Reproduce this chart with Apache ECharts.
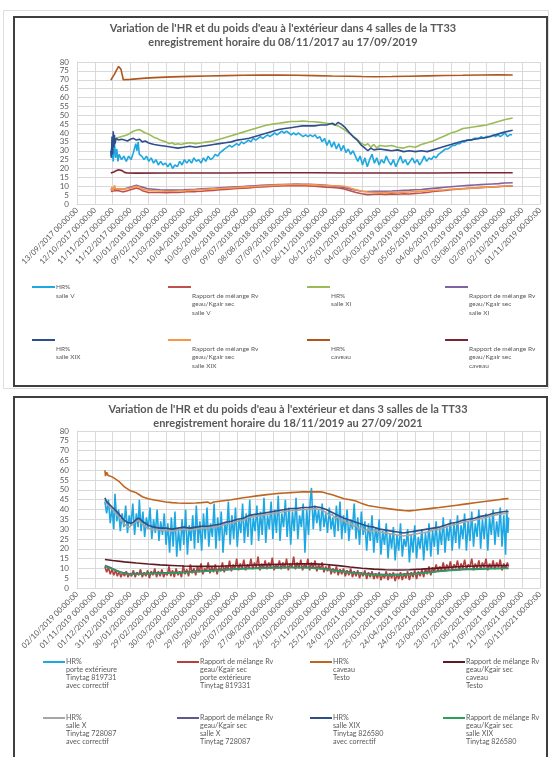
<!DOCTYPE html>
<html><head><meta charset="utf-8">
<script src="https://cdn.jsdelivr.net/npm/echarts@6.0.0/dist/echarts.min.js"></script>
<style>html,body{margin:0;padding:0;background:#fff}#c{width:550px;height:757px}</style>
</head><body><div id="c"></div><script>
// ---------- tick labels (one label every 30 days from the axis origin) ----------
const ticks1 = ['13/09/2017 00:00:00','12/10/2017 00:00:00','11/11/2017 00:00:00','11/12/2017 00:00:00','10/01/2018 00:00:00','09/02/2018 00:00:00','11/03/2018 00:00:00','10/04/2018 00:00:00','10/05/2018 00:00:00','09/06/2018 00:00:00','09/07/2018 00:00:00','08/08/2018 00:00:00','07/09/2018 00:00:00','07/10/2018 00:00:00','06/11/2018 00:00:00','06/12/2018 00:00:00','05/01/2019 00:00:00','04/02/2019 00:00:00','06/03/2019 00:00:00','05/04/2019 00:00:00','05/05/2019 00:00:00','04/06/2019 00:00:00','04/07/2019 00:00:00','03/08/2019 00:00:00','02/09/2019 00:00:00','02/10/2019 00:00:00','01/11/2019 00:00:00'];
const ticks2 = ['02/10/2019 00:00:00','01/11/2019 00:00:00','01/12/2019 00:00:00','31/12/2019 00:00:00','30/01/2020 00:00:00','29/02/2020 00:00:00','30/03/2020 00:00:00','29/04/2020 00:00:00','29/05/2020 00:00:00','28/06/2020 00:00:00','28/07/2020 00:00:00','27/08/2020 00:00:00','26/09/2020 00:00:00','26/10/2020 00:00:00','25/11/2020 00:00:00','25/12/2020 00:00:00','24/01/2021 00:00:00','23/02/2021 00:00:00','25/03/2021 00:00:00','24/04/2021 00:00:00','24/05/2021 00:00:00','23/06/2021 00:00:00','23/07/2021 00:00:00','22/08/2021 00:00:00','21/09/2021 00:00:00','21/10/2021 00:00:00','20/11/2021 00:00:00'];
const yTicks = [0,5,10,15,20,25,30,35,40,45,50,55,60,65,70,75,80];

// ---------- chart 1 : [day since 13/09/2017, value] ----------
const c1_hrSalleV = [[57,27],[59,33],[61,24],[63,35],[65,26],[67,31],[69,24],[71,28],[75,25],[79,27],[83,24],[87,27],[91,25],[95,29],[99,34],[101,30],[103,35],[105,28],[109,27],[113,25],[117,27],[121,24],[125,26],[129,23],[133,25],[137,22],[141,24],[145,22],[149,23],[153,21],[157,23],[161,20],[165,22],[169,21],[173,24],[177,22],[181,25],[185,23],[189,25],[193,23],[197,26],[201,24],[205,25],[209,23],[213,26],[217,24],[221,27],[225,25],[229,26],[233,28],[237,27],[241,29],[245,30],[249,31],[253,32],[257,33],[261,32],[265,33],[269,34],[273,33],[277,35],[281,34],[285,35],[289,36],[293,35],[297,37],[301,36],[305,37],[309,38],[313,37],[317,38],[321,39],[325,38],[329,39],[333,40],[337,39],[341,40],[345,41],[349,40],[353,41],[357,40],[361,39],[365,40],[369,39],[373,40],[377,39],[381,38],[385,39],[389,38],[393,39],[397,38],[401,39],[405,37],[409,38],[413,35],[417,37],[421,33],[425,36],[429,32],[433,35],[437,31],[441,34],[445,30],[449,33],[453,29],[457,31],[461,28],[465,30],[469,27],[473,24],[477,27],[481,22],[485,26],[489,21],[493,25],[497,28],[501,23],[505,26],[509,22],[513,25],[517,23],[521,27],[525,24],[529,22],[533,25],[537,21],[541,24],[545,27],[549,23],[553,25],[557,22],[561,24],[565,26],[569,23],[573,25],[577,22],[581,24],[585,27],[589,24],[593,26],[597,25],[601,27],[605,26],[609,28],[613,29],[617,30],[621,31],[625,31],[629,32],[633,33],[637,33],[641,34],[645,34],[649,35],[653,35],[657,36],[661,36],[665,36],[669,37],[673,37],[677,37],[681,38],[685,37],[689,38],[693,38],[697,38],[701,39],[705,38],[709,39],[713,38],[717,39],[721,40],[725,38],[729,39],[733,39]];
const c1_rvSalleV = [[57,7],[60,6],[63,7.5],[66,6.5],[70,7.5],[75,7],[80,7],[85,7.5],[90,8],[95,8.5],[100,9],[105,8.5],[110,7.5],[115,7],[120,6.5],[130,6.5],[140,6.5],[150,6.3],[160,6.5],[170,6.5],[180,6.8],[190,7],[200,7],[210,7.2],[220,7.5],[230,7.7],[240,8],[250,8.2],[260,8.5],[270,8.7],[280,8.9],[290,9.1],[300,9.4],[310,9.6],[320,9.8],[330,10],[340,10.1],[350,10.3],[360,10.3],[370,10.3],[380,10.4],[390,10.2],[400,10],[410,9.8],[420,9.5],[430,9.3],[440,9],[450,8.5],[460,7.5],[470,6.5],[480,5.8],[490,5.3],[500,5.5],[510,5.6],[520,5.4],[530,5.7],[540,5.5],[550,5.8],[560,5.6],[570,6],[580,6.2],[590,6.5],[600,7],[610,7.3],[620,7.6],[630,8],[640,8.3],[650,8.6],[660,8.8],[670,9],[680,9.2],[690,9.4],[700,9.6],[710,9.8],[720,10],[734,10.2]];
const c1_hrSalleXI = [[58,35],[62,36],[66,37],[70,37.5],[75,38],[80,38.5],[85,39],[90,40],[95,41],[100,41.5],[105,42],[110,41],[115,40],[120,39.5],[125,38.5],[130,37.5],[135,37],[140,36],[145,35.5],[150,35],[155,34],[160,34.5],[165,33.5],[170,34],[175,33.5],[180,34],[190,34.5],[200,34],[210,34.5],[220,35],[230,35.5],[240,36.5],[250,37.5],[260,38.5],[270,39.5],[280,40.5],[290,41.5],[300,42.5],[310,43.5],[320,44.5],[330,45],[340,45.5],[350,46],[360,46.5],[370,46.5],[380,46.8],[390,46.5],[400,46.3],[410,46],[420,45.5],[430,45],[440,44],[450,42],[460,39.5],[470,37],[478,34.5],[485,33],[490,34],[495,32],[500,33.5],[505,31.5],[510,33],[520,32.5],[530,33],[540,32],[550,31.5],[560,32.5],[570,32],[580,33.5],[590,34.5],[600,35.5],[610,37],[620,38.5],[630,40],[640,41],[650,42.5],[660,43],[670,43.5],[680,44],[690,44.5],[700,45.5],[710,46.5],[720,47.5],[734,48.5]];
const c1_rvSalleXI = [[57,8],[60,8.5],[65,8],[70,8.5],[80,8.5],[90,9.5],[95,10],[100,10.5],[105,10],[110,9.5],[115,9],[120,8.5],[130,8.3],[140,8],[150,7.8],[160,7.8],[170,7.9],[180,8],[190,8.2],[200,8.3],[210,8.5],[220,8.7],[230,8.9],[240,9.1],[250,9.3],[260,9.5],[270,9.7],[280,9.9],[290,10.1],[300,10.3],[310,10.5],[320,10.7],[330,10.8],[340,10.9],[350,11],[360,11.1],[370,11.2],[380,11.1],[390,11.1],[400,11],[410,10.8],[420,10.5],[430,10.2],[440,9.8],[450,9.3],[460,8.5],[470,7.8],[480,7.2],[490,7],[500,7.1],[510,7.2],[520,7.2],[530,7.3],[540,7.5],[550,7.7],[560,7.8],[570,8],[580,8.2],[590,8.5],[600,8.8],[610,9.1],[620,9.4],[630,9.7],[640,10],[650,10.3],[660,10.5],[670,10.7],[680,10.9],[690,11.1],[700,11.3],[710,11.5],[720,11.8],[734,12]];
const c1_hrSalleXIX = [[57,30],[58,26],[59,38],[60,28],[61,41],[62,32],[63,39],[64,34],[66,37],[70,36],[75,36.5],[80,36],[85,35.5],[90,36.5],[95,37],[100,36],[105,36.5],[110,35],[115,35.5],[120,34.5],[125,34],[130,33.5],[140,33],[150,32.5],[160,32],[170,31.5],[180,32],[190,32.5],[200,32],[210,32.5],[220,33],[230,33.5],[240,34],[250,34.5],[260,35],[270,36],[280,36.5],[290,37],[300,38],[310,39],[320,40],[330,41],[340,42],[350,42.5],[360,43],[370,43.5],[380,44],[390,44],[400,44],[410,44.5],[420,44.5],[430,45.5],[435,44.5],[440,46],[445,45],[448,46],[452,43],[458,40.5],[465,38],[472,36],[478,33.5],[485,31.5],[490,30],[495,31.5],[500,30.5],[510,31],[520,30.5],[530,30],[540,30.5],[550,29.5],[560,30],[570,29.5],[580,30],[590,29.5],[600,30.5],[610,31.5],[620,32.5],[630,33.5],[640,34.5],[650,35.5],[660,36],[670,36.5],[680,37],[690,37.5],[700,38.5],[710,39.5],[720,40.5],[734,41.5]];
const c1_rvSalleXIX = [[57,8],[59,9.5],[61,7.5],[63,10.5],[65,8.5],[68,9],[72,8.5],[80,8.5],[90,9],[95,9.5],[100,10],[105,9.5],[110,8.5],[115,8],[120,7.8],[130,7.5],[140,7.3],[150,7.2],[160,7.2],[170,7.3],[180,7.5],[190,7.7],[200,7.9],[210,8.1],[220,8.3],[230,8.5],[240,8.7],[250,8.9],[260,9.1],[270,9.3],[280,9.5],[290,9.7],[300,9.9],[310,10.1],[320,10.3],[330,10.5],[340,10.7],[350,10.9],[360,11],[370,11],[380,11],[390,10.9],[400,10.8],[410,10.6],[420,10.4],[430,10.3],[440,10.2],[450,10],[460,9],[470,8],[480,7.2],[490,6.8],[500,6.6],[510,6.5],[520,6.4],[530,6.5],[540,6.6],[550,6.7],[560,6.8],[570,7],[580,7.2],[590,7.4],[600,7.6],[610,7.8],[620,8],[630,8.3],[640,8.5],[650,8.7],[660,8.9],[670,9.1],[680,9.3],[690,9.5],[700,9.7],[710,9.9],[720,10.1],[734,10.3]];
const c1_hrCaveau = [[57,69.8],[60,71.5],[63,73],[66,75],[68,74],[70,77.5],[72,78],[74,76],[76,73],[78,70],[80,69.5],[90,70.2],[110,70.8],[130,71.2],[160,71.6],[190,71.9],[220,72.1],[250,72.3],[280,72.5],[310,72.6],[340,72.6],[370,72.5],[400,72.3],[430,72.1],[460,72],[480,71.8],[500,71.7],[530,71.8],[560,72],[590,72.2],[620,72.4],[650,72.5],[680,72.7],[710,72.8],[734,72.7]];
const c1_rvCaveau = [[57,17.5],[62,18],[66,18.8],[70,19.3],[73,19.5],[76,18.8],[80,17.8],[85,17.5],[100,17.4],[150,17.5],[200,17.5],[250,17.5],[300,17.6],[350,17.6],[400,17.6],[450,17.5],[500,17.5],[550,17.5],[600,17.5],[650,17.6],[700,17.6],[734,17.6]];

// ---------- chart 2 : [day since 02/10/2019, value] ----------
const c2_hrPorteExt = [[47,44],[50,38],[53,45],[56,33],[59,41],[62,30],[64,48],[67,34],[70,40],[73,29],[76,38],[79,31],[82,42],[85,28],[88,37],[91,32],[94,43],[97,27],[100,38],[103,31],[105,45],[108,29],[111,39],[114,26],[117,36],[120,30],[123,41],[126,25],[129,35],[132,28],[135,40],[138,24],[141,34],[144,27],[147,38],[150,22],[153,33],[156,18],[159,36],[162,21],[165,39],[168,16],[171,30],[174,19],[177,35],[180,22],[183,40],[186,17],[189,32],[192,24],[195,37],[198,20],[201,42],[204,23],[207,34],[210,19],[213,38],[216,25],[219,41],[222,21],[225,33],[228,26],[231,43],[234,20],[237,36],[240,24],[243,39],[246,18],[249,33],[252,27],[255,44],[258,22],[261,37],[264,25],[267,41],[270,21],[273,35],[276,28],[279,43],[282,23],[285,38],[288,26],[291,45],[294,22],[297,36],[300,29],[303,42],[306,24],[309,39],[312,27],[315,46],[318,23],[321,37],[324,30],[327,44],[330,25],[333,40],[336,28],[339,47],[342,24],[345,38],[348,31],[351,45],[354,26],[357,41],[360,22],[363,39],[366,29],[369,46],[372,25],[375,37],[378,31],[381,43],[384,18],[387,40],[390,27],[393,45],[395,51],[398,30],[401,42],[404,33],[407,40],[410,29],[413,43],[416,31],[419,38],[422,28],[425,41],[428,30],[431,36],[434,26],[437,42],[440,29],[443,44],[446,25],[449,37],[452,28],[455,40],[458,24],[461,35],[464,30],[467,43],[470,25],[473,36],[476,22],[479,39],[482,27],[485,34],[488,19],[491,33],[494,24],[497,37],[500,18],[503,31],[506,23],[509,35],[512,17],[515,29],[518,22],[521,33],[524,15],[527,28],[530,20],[533,31],[536,14],[539,27],[542,19],[545,33],[548,16],[551,25],[554,21],[557,30],[560,13],[563,27],[566,18],[569,32],[572,15],[575,26],[578,20],[581,30],[584,14],[587,28],[590,19],[593,33],[596,16],[599,29],[602,21],[605,34],[608,17],[611,30],[614,22],[617,36],[620,18],[623,31],[626,24],[629,35],[632,19],[635,33],[638,23],[641,37],[644,20],[647,32],[650,25],[653,38],[656,19],[659,34],[662,24],[665,39],[668,21],[671,33],[674,26],[677,40],[680,20],[683,35],[686,25],[689,38],[692,19],[695,36],[698,27],[701,40],[704,22],[707,34],[710,26],[713,41],[716,21],[719,37],[722,17],[724,40],[726,28],[727,36]];
const c2_rvPorteExt = [[47,11],[50,8],[53,10.5],[56,7],[59,9.5],[62,6.5],[65,9],[68,6],[71,8.5],[74,5.5],[77,8],[80,6],[83,8.5],[86,5.5],[89,7.5],[92,6],[95,9],[98,5.5],[101,8],[104,6.5],[107,9.5],[110,5.5],[113,8],[116,6],[119,9],[122,5],[125,8.5],[128,6.5],[131,10],[134,5.5],[137,8.5],[140,6],[143,9.5],[146,5.5],[149,8],[152,6.5],[155,11],[158,6],[161,9],[164,5.5],[167,10],[170,6.5],[173,8.5],[176,5.5],[179,11.5],[182,7],[185,9.5],[188,6],[191,12],[194,7.5],[197,10],[200,6.5],[203,11],[206,8],[209,12.5],[212,7],[215,10],[218,8.5],[221,13],[224,7.5],[227,11],[230,8],[233,12],[236,7],[239,10.5],[242,8.5],[245,13],[248,8],[251,11.5],[254,9],[257,14],[260,8.5],[263,12],[266,9.5],[269,15],[272,9],[275,12.5],[278,10],[281,14.5],[284,9],[287,12],[290,10],[293,15],[296,9.5],[299,13],[302,10.5],[305,16],[308,9],[311,12.5],[314,10],[317,14],[320,9.5],[323,13],[326,10.5],[329,15.5],[332,9],[335,12],[338,10],[341,14],[344,9.5],[347,13],[350,10],[353,15],[356,9],[359,12.5],[362,10.5],[365,16],[368,9.5],[371,13],[374,10],[377,14.5],[380,9],[383,12],[386,10.5],[389,15],[392,9],[395,13],[398,10],[401,14],[404,8.5],[407,12],[410,9.5],[413,13],[416,8],[419,11],[422,8.5],[425,12],[428,7],[431,10],[434,7.5],[437,11],[440,6.5],[443,9.5],[446,7],[449,10],[452,6],[455,9],[458,6.5],[461,10],[464,5.5],[467,8.5],[470,6],[473,9],[476,5],[479,8],[482,6],[485,9],[488,4.5],[491,8],[494,5.5],[497,8.5],[500,4.5],[503,7.5],[506,5],[509,8],[512,4],[515,7],[518,5],[521,8.5],[524,4],[527,7.5],[530,5],[533,8],[536,3.5],[539,7],[542,4.5],[545,8],[548,4],[551,7.5],[554,5],[557,8.5],[560,4],[563,8],[566,5.5],[569,9],[572,4.5],[575,8.5],[578,6],[581,9.5],[584,5.5],[587,10],[590,7],[593,11],[596,6.5],[599,10.5],[602,8],[605,12],[608,8.5],[611,11],[614,9],[617,13],[620,8.5],[623,12],[626,9.5],[629,13.5],[632,9],[635,12],[638,10],[641,14],[644,9],[647,12.5],[650,10],[653,14.5],[656,9.5],[659,12],[662,10.5],[665,15],[668,9],[671,12.5],[674,10],[677,14],[680,9.5],[683,13],[686,10.5],[689,15],[692,9],[695,12.5],[698,10],[701,14],[704,9.5],[707,13],[710,10.5],[713,14.5],[716,9],[719,12.5],[722,10],[725,13],[727,11]];
const c2_hrCaveau = [[47,60],[48,57],[50,59],[52,57.5],[55,57.5],[60,56.5],[65,55.5],[70,54.5],[75,53],[80,51.5],[85,50.5],[90,49.5],[95,49],[100,48.5],[105,47.5],[110,46.5],[115,46],[120,45.5],[130,44.8],[140,44.3],[150,43.8],[160,43.5],[170,43.3],[180,43.2],[190,43.2],[200,43.3],[210,43.5],[220,43.8],[225,43],[230,43.8],[240,44.2],[250,44.6],[260,45],[270,45.5],[280,46],[290,46.4],[300,46.8],[310,47.2],[320,47.6],[330,47.9],[340,48.2],[350,48.4],[360,48.6],[370,48.8],[380,49],[390,49],[400,49],[410,49],[415,48.8],[420,48.3],[430,47.5],[440,46.5],[450,45.5],[460,45],[470,44.3],[480,43],[490,42],[500,41.5],[510,41],[520,40.6],[530,40.2],[540,39.8],[550,39.5],[560,39.3],[570,39.6],[580,40],[590,40.3],[600,40.7],[610,41],[620,41.4],[630,41.8],[640,42.2],[650,42.6],[660,43],[670,43.4],[680,43.8],[690,44.2],[700,44.6],[710,45],[720,45.4],[727,45.6]];
const c2_rvCaveau = [[47,14.5],[60,14],[80,13.3],[100,12.7],[120,12.2],[140,11.8],[160,11.5],[180,11.2],[200,11],[220,11],[240,11.1],[260,11.3],[280,11.5],[300,11.7],[320,11.9],[340,12.1],[360,12.2],[380,12.3],[400,12.3],[420,12],[440,11.4],[460,10.7],[480,10.1],[500,9.6],[520,9.3],[540,9.2],[560,9.3],[580,9.6],[600,10],[620,10.4],[640,10.8],[660,11.1],[680,11.3],[700,11.4],[727,11.5]];
const c2_hrSalleX = [[47,45],[50,43],[53,44],[56,41],[60,40],[64,38.5],[68,37],[72,35.5],[76,34],[80,32.5],[84,31.5],[88,31],[92,32],[96,33],[100,34],[104,34.5],[108,33],[112,32],[116,31],[120,30.5],[125,30],[130,29.5],[135,30],[140,29.5],[150,29.5],[160,29],[170,29.5],[180,30],[190,29.5],[200,30],[210,30.5],[220,30.5],[230,31],[240,31.5],[250,32.5],[260,33],[270,34],[280,34.5],[290,36],[300,36.5],[310,37],[320,37.5],[330,38],[340,38.5],[350,39],[360,39.5],[370,39.5],[380,40],[390,40],[400,40.5],[410,40],[420,38.5],[425,37],[430,37.5],[435,35.5],[440,36],[445,34],[450,34.5],[455,33],[460,33.5],[465,31.5],[470,32],[475,30],[480,31],[485,29],[490,30],[495,28.5],[500,29.5],[510,28.5],[520,28],[530,27.5],[540,27],[550,26.5],[560,27],[570,27.5],[580,28],[590,28.5],[600,29.5],[610,30],[620,31],[630,32],[640,32.5],[650,33.5],[660,34],[670,34.5],[680,35.5],[690,36],[700,37],[710,37.5],[720,38],[727,38]];
const c2_rvSalleX = [[47,11.5],[52,11],[57,10.3],[62,9.6],[67,8.9],[72,8.3],[77,7.9],[82,7.6],[87,7.4],[92,7.3],[100,7.3],[110,7.4],[120,7.5],[130,7.6],[140,7.7],[150,7.8],[160,7.9],[170,8],[180,8.1],[190,8.3],[200,8.5],[210,8.7],[220,8.9],[230,9.1],[240,9.3],[250,9.5],[260,9.7],[270,9.9],[280,10],[290,10.1],[300,10.2],[310,10.3],[320,10.4],[330,10.5],[340,10.5],[350,10.6],[360,10.6],[370,10.6],[380,10.6],[390,10.5],[400,10.3],[410,10.1],[420,9.7],[430,9.3],[440,8.9],[450,8.5],[460,8.1],[470,7.8],[480,7.5],[490,7.3],[500,7.1],[510,7],[520,6.9],[530,6.9],[540,7],[550,7.1],[560,7.3],[570,7.5],[580,7.8],[590,8.1],[600,8.4],[610,8.7],[620,9],[630,9.2],[640,9.4],[650,9.6],[660,9.7],[670,9.8],[680,9.9],[690,10],[700,10.1],[710,10.1],[720,10.2],[727,10.2]];
const c2_hrSalleXIX = [[47,46],[50,44],[55,42.5],[60,41],[65,39.5],[70,38],[75,36],[80,34.5],[85,33.5],[90,33],[95,33.5],[100,35],[105,35.5],[110,34],[115,33],[120,32],[125,31.5],[130,31],[140,30.5],[150,30.5],[160,30],[170,30.5],[180,31],[190,30.5],[200,31],[210,31.5],[220,31.5],[230,32],[240,32.5],[250,33.5],[260,34],[270,35],[280,35.5],[290,37],[300,37.5],[310,38],[320,38.5],[330,39],[340,39.5],[350,40],[360,40.5],[370,40.5],[380,41],[390,41],[400,41.5],[410,41],[420,40],[430,38.5],[440,37],[450,35.5],[460,34.5],[470,33.5],[480,32.5],[490,31.5],[500,31],[510,30],[520,29.5],[530,29],[540,28.5],[550,28],[560,28.5],[570,29],[580,29.5],[590,30],[600,30.5],[610,31],[620,32],[630,33],[640,33.5],[650,34.5],[660,35],[670,35.5],[680,36.5],[690,37],[700,38],[710,38.5],[720,39],[727,39]];
const c2_rvSalleXIX = [[47,11],[52,10.5],[57,10],[62,9.3],[67,8.6],[72,8],[77,7.6],[82,7.3],[87,7.1],[92,7],[100,7],[110,7.1],[120,7.2],[130,7.3],[140,7.4],[150,7.5],[160,7.6],[170,7.7],[180,7.8],[190,8],[200,8.2],[210,8.4],[220,8.6],[230,8.8],[240,9],[250,9.2],[260,9.4],[270,9.6],[280,9.7],[290,9.8],[300,9.9],[310,10],[320,10.1],[330,10.2],[340,10.2],[350,10.3],[360,10.3],[370,10.3],[380,10.3],[390,10.2],[400,10],[410,9.8],[420,9.4],[430,9],[440,8.6],[450,8.2],[460,7.8],[470,7.5],[480,7.2],[490,7],[500,6.8],[510,6.7],[520,6.6],[530,6.6],[540,6.7],[550,6.8],[560,7],[570,7.2],[580,7.5],[590,7.8],[600,8.1],[610,8.4],[620,8.7],[630,8.9],[640,9.1],[650,9.3],[660,9.4],[670,9.5],[680,9.6],[690,9.7],[700,9.8],[710,9.8],[720,9.9],[727,9.9]];

// ---------- series names ----------
const RV = 'Rapport de mélange Rv\ngeau/Kgair sec\n';
const names1 = ['HR%\nsalle V', RV+'salle V', 'HR%\nsalle XI', RV+'salle XI', 'HR%\nsalle XIX', RV+'salle XIX', 'HR%\ncaveau', RV+'caveau'];
const names2 = ['HR%\nporte extérieure\nTinytag 819731\navec correctif', RV+'porte extérieure\nTinytag 819331', 'HR%\ncaveau\nTesto', RV+'caveau\nTesto', 'HR%\nsalle X\nTinytag 728087\navec correctif', RV+'salle X\nTinytag 728087', 'HR%\nsalle XIX\nTinytag 826580\navec correctif', RV+'salle XIX\nTinytag 826580'];
const data1 = [c1_hrSalleV, c1_rvSalleV, c1_hrSalleXI, c1_rvSalleXI, c1_hrSalleXIX, c1_rvSalleXIX, c1_hrCaveau, c1_rvCaveau];
const data2 = [c2_hrPorteExt, c2_rvPorteExt, c2_hrCaveau, c2_rvCaveau, c2_hrSalleX, c2_rvSalleX, c2_hrSalleXIX, c2_rvSalleXIX];
const colors1 = ['#1EA7E1','#C0504D','#9BBB59','#8064A2','#2F4F8C','#F79646','#B0561A','#7A2630'];
const colors2 = ['#1EA8E3','#B5413C','#C0651E','#5C1B22','#A6A6A6','#5E5A8C','#2F4F86','#2E9E5B'];

const FONT = 'Lato';
const GREY = '#595959';
const GRID = '#D9D9D9';

function xAxis(gi, ticks) {
  return {
    type: 'value', gridIndex: gi, min: 0, max: 30 * (ticks.length - 1), interval: 30,
    axisLine: { show: true, lineStyle: { color: GRID } },
    axisTick: { show: false },
    splitLine: { show: true, lineStyle: { color: GRID, width: 1 } },
    axisLabel: { rotate: 45, margin: 5, fontSize: 7.8, color: GREY, fontFamily: FONT,
      formatter: v => ticks[Math.round(v / 30)] || '' }
  };
}
function yAxis(gi) {
  return {
    type: 'value', gridIndex: gi, min: yTicks[0], max: yTicks[yTicks.length - 1], interval: 5,
    axisLine: { show: true, lineStyle: { color: GRID } },
    axisTick: { show: false },
    splitLine: { show: true, lineStyle: { color: GRID, width: 1 } },
    axisLabel: { margin: 8, fontSize: 8, color: GREY, fontFamily: FONT, formatter: v => String(v) }
  };
}
function series(names, datas, colors, gi) {
  return names.map((n, i) => ({
    type: 'line', name: n, xAxisIndex: gi, yAxisIndex: gi, data: datas[i],
    symbol: 'none', showSymbol: false, smooth: false,
    itemStyle: { color: colors[i] }, lineStyle: { width: 1.6, color: colors[i] },
    emphasis: { disabled: true }, z: 2 + i
  }));
}
// One legend component per entry. The legend text block is centred on the icon,
// so blank lines are prepended to put the first text line k lines below the icon.
function legendItem(name, left, iconY, k, fs, lh, iw) {
  const n = name.split('\n').length;
  const b = 2 * k + n - 1;
  const m = b + n;
  return {
    data: [name], left: left, top: iconY - m * lh / 2, padding: 0, orient: 'vertical',
    icon: 'rect', itemWidth: iw, itemHeight: 2, itemGap: 0, selectedMode: false,
    formatter: nm => '\n'.repeat(b) + nm,
    textStyle: { fontSize: fs, lineHeight: lh, color: GREY, fontFamily: FONT, padding: [0, 0, 0, -4] }
  };
}
const leg1X = [32, 168, 307, 445];
const leg2X = [43, 177, 310, 443];
const legends = [];
names1.forEach((n, i) => {
  const row = Math.floor(i / 4), col = i % 4;
  const k = (row === 0 && col === 0) ? 0 : 1;
  legends.push(legendItem(n, leg1X[col], row === 0 ? 287 : 340, k, 6.5, 8.5, 23));
});
names2.forEach((n, i) => {
  const row = Math.floor(i / 4), col = i % 4;
  legends.push(legendItem(n, leg2X[col], row === 0 ? 662 : 718, 0, 7.2, 7.8, 22));
});

const titleStyle = { fontSize: 11, fontWeight: 'bold', color: GREY, fontFamily: FONT, lineHeight: 14 };
const option = {
  animation: false,
  backgroundColor: '#fff',
  textStyle: { fontFamily: FONT },
  title: [
    { text: "Variation de l'HR et du poids d'eau à l'extérieur dans 4 salles de la TT33\nenregistrement horaire du 08/11/2017 au 17/09/2019",
      left: 283, top: 21, textAlign: 'center', textVerticalAlign: 'top', padding: 0, textStyle: titleStyle },
    { text: "Variation de l'HR et du poids d'eau à l'extérieur et dans 3 salles de la TT33\nenregistrement horaire du 18/11/2019 au 27/09/2021",
      left: 288, top: 402, textAlign: 'center', textVerticalAlign: 'top', padding: 0, textStyle: titleStyle }
  ],
  grid: [
    { left: 77, top: 62, width: 463, height: 142 },
    { left: 77, top: 431, width: 463, height: 157 }
  ],
  xAxis: [xAxis(0, ticks1), xAxis(1, ticks2)],
  yAxis: [yAxis(0), yAxis(1)],
  legend: legends,
  graphic: [
    { type: 'rect', silent: true, shape: { x: 3.5, y: 10.5, width: 545, height: 378 }, style: { fill: 'none', stroke: '#DDDDDD', lineWidth: 1 } },
    { type: 'rect', silent: true, shape: { x: 14, y: 17, width: 533, height: 369 }, style: { fill: 'none', stroke: '#3F3F3F', lineWidth: 2 } },
    { type: 'rect', silent: true, shape: { x: 14, y: 397, width: 533, height: 380 }, style: { fill: 'none', stroke: '#3F3F3F', lineWidth: 2 } }
  ],
  series: series(names1, data1, colors1, 0).concat(series(names2, data2, colors2, 1))
};
const chart = echarts.init(document.getElementById('c'), null, { renderer: 'canvas' });
chart.setOption(option);
</script></body></html>
